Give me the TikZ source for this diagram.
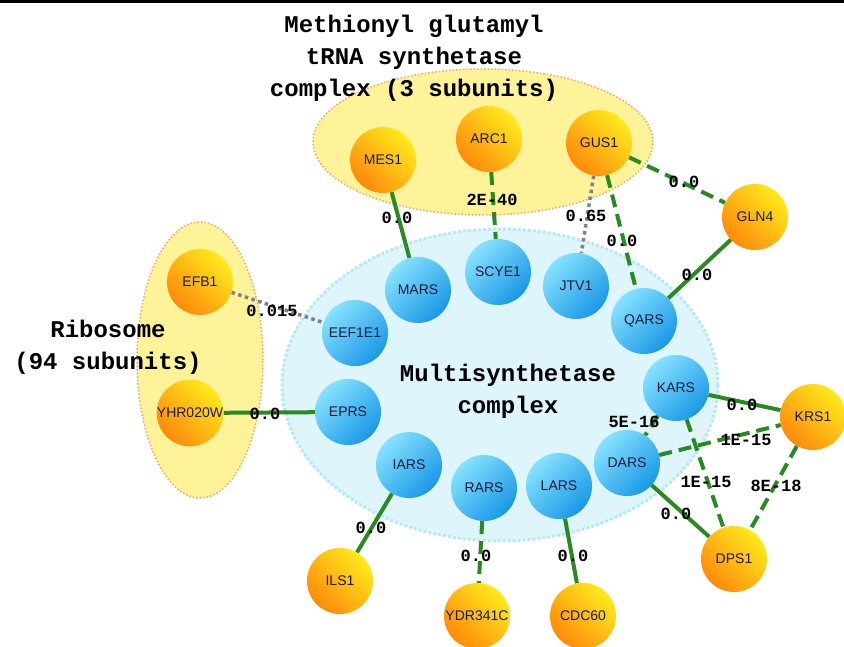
\documentclass[tikz,border=0pt]{standalone}
\usepackage{fontspec}
\setmainfont{Liberation Sans}
\newfontfamily\monob{Liberation Mono}[BoldFont={Liberation Mono Bold}]
\usetikzlibrary{shapes.geometric}
\pgfdeclarelayer{bg}
\pgfdeclarelayer{edges}
\pgfsetlayers{bg,edges,main}
\definecolor{edgegreen}{HTML}{2A8A22}
\definecolor{dotgray}{HTML}{857C92}
\definecolor{ylfill}{HTML}{FFF39A}
\definecolor{ylborder}{HTML}{F0A868}
\definecolor{blfill}{HTML}{DDF5FB}
\definecolor{blborder}{HTML}{B8E8F6}
\definecolor{orgA}{HTML}{FFEA1C}
\definecolor{orgB}{HTML}{FF8A0C}
\definecolor{bluA}{HTML}{86E2FF}
\definecolor{bluB}{HTML}{1A98E6}
\definecolor{nodetext}{HTML}{1A1A3A}
\tikzset{
  onode/.style={circle, minimum size=66pt, inner sep=0pt, top color=orgA, bottom color=orgB, shading angle=-45, font=\fontsize{14}{14}\selectfont, text=nodetext},
  bnode/.style={circle, minimum size=66pt, inner sep=0pt, top color=bluA, bottom color=bluB, shading angle=45, font=\fontsize{14}{14}\selectfont, text=nodetext},
  solidedge/.style={draw=edgegreen, line width=4pt},
  dashedge/.style={draw=edgegreen, line width=4pt, dash pattern=on 13pt off 7pt},
  dotedge/.style={draw=dotgray, line width=3.5pt, dash pattern=on 3.5pt off 3.5pt},
  elabel/.style={font=\monob\bfseries\fontsize{17}{17}\selectfont, text=black, inner sep=1pt},
  biglabel/.style={font=\monob\bfseries\fontsize{24}{32}\selectfont, align=center, text=black},
  ycomplex/.style={ellipse, fill=ylfill, draw=ylborder, line width=1.5pt, dotted},
  bcomplex/.style={ellipse, fill=blfill, draw=blborder, line width=3pt, dotted}
}
\begin{document}
\begin{tikzpicture}[x=1pt,y=-1pt]
\useasboundingbox (0,0) rectangle (844,647);
\begin{pgfonlayer}{bg}
\fill[white] (0,0) rectangle (844,647);
\fill[black] (0,0) rectangle (844,3);
\node[bcomplex, minimum width=436pt, minimum height=312pt] (msc) at (500,385) {};
\node[ycomplex, minimum width=340pt, minimum height=146pt] (mgc) at (483,142) {};
\node[ycomplex, minimum width=126pt, minimum height=276pt] (ribo) at (200,360) {};
\end{pgfonlayer}
% orange nodes
\node[onode] (MES1) at (383,160) {MES1};
\node[onode] (ARC1) at (489,139) {ARC1};
\node[onode] (GUS1) at (599,143) {GUS1};
\node[onode] (GLN4) at (755,217) {GLN4};
\node[onode] (EFB1) at (200,282) {EFB1};
\node[onode] (YHR) at (190,413) {YHR020W};
\node[onode] (KRS1) at (813,417) {KRS1};
\node[onode] (DPS1) at (734,559) {DPS1};
\node[onode] (ILS1) at (340,581) {ILS1};
\node[onode] (YDR) at (477,616) {YDR341C};
\node[onode] (CDC60) at (583,616) {CDC60};
% blue nodes
\node[bnode] (MARS) at (418,290) {MARS};
\node[bnode] (SCYE1) at (498,272) {SCYE1};
\node[bnode] (JTV1) at (576,286) {JTV1};
\node[bnode] (QARS) at (644,321) {QARS};
\node[bnode] (EEF) at (355,333) {EEF1E1};
\node[bnode] (EPRS) at (348,412) {EPRS};
\node[bnode] (KARS) at (676,388) {KARS};
\node[bnode] (DARS) at (627,463) {DARS};
\node[bnode] (IARS) at (409,465) {IARS};
\node[bnode] (RARS) at (484,488) {RARS};
\node[bnode] (LARS) at (559,486) {LARS};
% edges
\begin{pgfonlayer}{edges}
\draw[solidedge] (MES1) -- (MARS);
\draw[dashedge] (ARC1) -- (SCYE1);
\draw[dotedge] (GUS1) -- (JTV1);
\draw[dashedge] (GUS1) -- (QARS);
\draw[dashedge] (GUS1) -- (GLN4);
\draw[solidedge] (GLN4) -- (QARS);
\draw[dotedge] (EFB1) -- (EEF);
\draw[solidedge] (YHR) -- (EPRS);
\draw[solidedge] (KARS) -- (KRS1);
\draw[dashedge] (KARS) -- (DARS);
\draw[dashedge] (DARS) -- (KRS1);
\draw[dashedge] (KARS) -- (DPS1);
\draw[dashedge] (KRS1) -- (DPS1);
\draw[solidedge] (DARS) -- (DPS1);
\draw[solidedge] (IARS) -- (ILS1);
\draw[dashedge] (RARS) -- (YDR);
\draw[solidedge] (LARS) -- (CDC60);
\end{pgfonlayer}
% edge labels
\node[elabel] (l1) at (397,218) {0.0};
\node[elabel] (l2) at (492,200) {2E-40};
\node[elabel] (l3) at (586,216) {0.65};
\node[elabel] (l4) at (622,241) {0.0};
\node[elabel] (l5) at (684,182) {0.0};
\node[elabel] (l6) at (697,275) {0.0};
\node[elabel] (l7) at (272,311) {0.015};
\node[elabel] (l8) at (265,414) {0.0};
\node[elabel] (l9) at (742,405) {0.0};
\node[elabel] (l10) at (634,422) {5E-16};
\node[elabel] (l11) at (746,440) {1E-15};
\node[elabel] (l12) at (706,482) {1E-15};
\node[elabel] (l13) at (776,486) {8E-18};
\node[elabel] (l14) at (676,514) {0.0};
\node[elabel] (l15) at (371,528) {0.0};
\node[elabel] (l16) at (476,556) {0.0};
\node[elabel] (l17) at (573,556) {0.0};
% complex labels
\node[biglabel] (t1) at (414,58) {Methionyl glutamyl\\tRNA synthetase\\complex (3 subunits)};
\node[biglabel] (t2) at (508,391) {Multisynthetase\\complex};
\node[biglabel] (t3) at (108,347) {Ribosome\\(94 subunits)};
\end{tikzpicture}
\end{document}
